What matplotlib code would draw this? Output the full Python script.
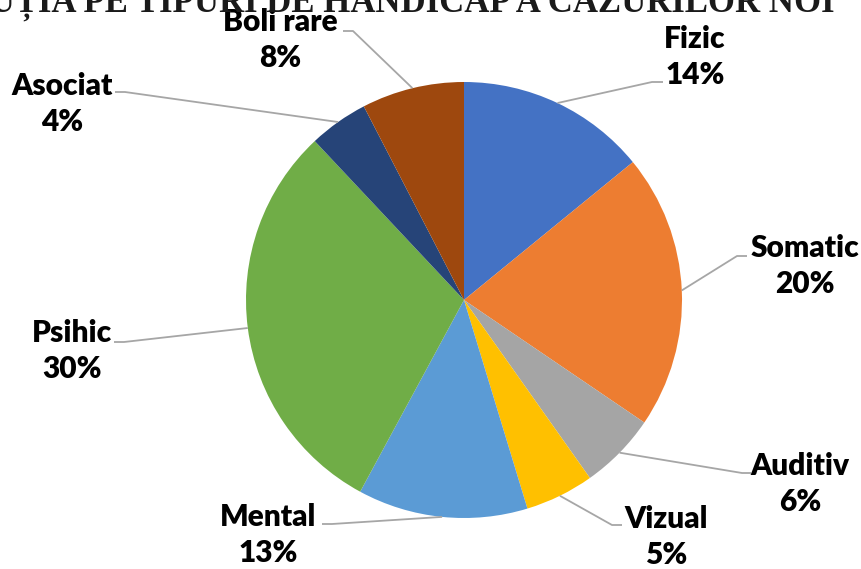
import numpy as np
import matplotlib
matplotlib.use("Agg")
import matplotlib.pyplot as plt

# ---- data ----
categories = ["Fizic", "Somatic", "Auditiv", "Vizual", "Mental", "Psihic", "Asociat", "Boli rare"]
values = [14.1, 20.4, 5.7, 5.1, 12.6, 30.1, 4.4, 7.6]
pct_labels = ["14%", "20%", "6%", "5%", "13%", "30%", "4%", "8%"]
colors = ["#4472C4", "#ED7D31", "#A5A5A5", "#FFC000", "#5B9BD5", "#70AD47", "#264478", "#9E480E"]
title = "DISTRIBUȚIA PE TIPURI DE HANDICAP A CAZURILOR NOI"

# ---- layout (pixel coordinates, y from top) ----
W, H = 862, 569
cx, cy, R = 464, 300, 218
label_xy = [(695, 57), (805, 266), (800, 484), (666, 537), (268, 535), (72, 351), (62, 104), (280, 40)]
elbows = [((652, 82), (663, 82)), ((737, 256), (747, 256)), ((742, 473), (751, 473)),
          ((612, 525), (622, 525)), ((332, 524), (322, 524)), ((124, 342), (114, 342)),
          ((125, 92), (115, 92)), ((353, 31), (343, 31))]

fig = plt.figure(figsize=(W / 100, H / 100), dpi=100)
ax = fig.add_axes([0, 0, 1, 1])

wedges, _ = ax.pie(values, colors=colors, startangle=90, counterclock=False,
                   center=(cx, H - cy), radius=R, wedgeprops=dict(linewidth=0))
ax.set_xlim(0, W)
ax.set_ylim(0, H)
ax.set_aspect("equal")
ax.axis("off")

font = "Lato"
for w, cat, pct, (lx, ly), (e1, e2) in zip(wedges, categories, pct_labels, label_xy, elbows):
    mid = np.deg2rad((w.theta1 + w.theta2) / 2)
    ax_x = cx + R * np.cos(mid)
    ax_y = (H - cy) + R * np.sin(mid)
    xs = [ax_x, e1[0], e2[0]]
    ys = [ax_y, H - e1[1], H - e2[1]]
    ax.plot(xs, ys, color="#A6A6A6", lw=1.3, solid_capstyle="butt", zorder=1)
    ax.text(lx, H - ly, f"{cat}\n{pct}", ha="center", va="center", fontsize=21.5,
            fontweight="heavy", family=font, linespacing=1.38, color="black")

ax.text(835, H - 12, title, ha="right", va="baseline", fontsize=25, fontweight="bold",
        family="Liberation Serif", color="#1a1a1a")

fig.savefig("out.png", dpi=100)
